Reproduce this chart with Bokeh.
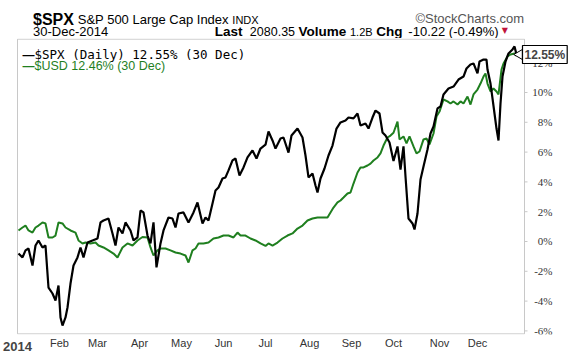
from bokeh.plotting import figure
from bokeh.models import Range1d, FixedTicker, Label, LabelSet, ColumnDataSource, LinearAxis
from bokeh.layouts import column
from bokeh.embed import file_html
from bokeh.resources import INLINE

# ---- data (trading-day index, % change since start of 2014) ----
spx_day = [0.5, 2.5, 4, 5.5, 7.5, 9, 10.5, 12.5, 14, 15.5, 17.5, 19, 20.5, 21.5, 22.5, 24, 25, 26.5, 28, 30,
           31.5, 33, 35, 37.5, 40, 41.5, 43, 45.5, 47.5, 49, 50.5, 52.5, 54, 56.5, 58, 60, 61.5, 63, 65, 66.5,
           68, 69.5, 71.5, 73, 75.5, 77.5, 79, 80.5, 83, 85.5, 88, 90, 92.5, 94, 95.5, 97.5, 99, 100.5, 102.5, 104,
           105.5, 107.5, 109, 111, 113, 115, 117.5, 119.5, 121.5, 124, 125.5, 127.5, 129, 131.5, 133, 135.5, 137, 140, 142.5, 144,
           145.5, 147.5, 149, 150, 151.5, 153.5, 155.5, 157.5, 159.5, 161.5, 164, 165.5, 168, 170, 171.5, 174, 175.5, 177.5, 179, 181,
           182.5, 184, 186, 188, 190, 191.5, 193, 194, 195.5, 197.5, 198.5, 200, 201.5, 203, 205, 206.5, 208, 210, 211.5, 213,
           215.5, 218, 220.5, 223, 224.5, 226.5, 228, 230, 231, 233, 234.5, 235, 236.5, 237.5, 238.5, 239.5, 240.5, 241.5, 242.5, 244,
           245.5, 247.5, 248.5, 249.5]
spx_pct = [-0.80, -1.07, -0.60, -0.47, -1.61, -0.27, 0.07, -0.40, -0.27, -3.09, -3.49, -3.96, -2.95, -5.10, -5.64, -5.10, -4.43, -2.82, -1.61, -1.07,
           -0.40, -1.07, -0.07, 0.07, 0.20, 1.28, 1.41, 1.54, 0.54, -0.27, 0.94, 0.54, 1.28, 0.74, 0.07, 0.27, 2.08, 1.95, 0.40, -0.13,
           1.28, -1.74, -0.13, 0.74, 1.61, 1.54, 0.94, 1.88, 1.95, 1.28, 1.95, 2.62, 1.21, 1.61, 1.41, 2.55, 3.42, 3.62, 4.23, 4.30,
           4.77, 5.44, 5.57, 4.43, 4.97, 5.64, 6.11, 5.57, 6.24, 6.50, 7.38, 6.78, 6.24, 6.91, 6.98, 5.97, 7.11, 7.58, 6.98, 5.77,
           4.30, 4.56, 3.76, 3.29, 4.23, 4.90, 5.77, 6.44, 7.58, 7.99, 8.12, 8.32, 8.26, 8.59, 7.79, 7.92, 7.58, 8.32, 8.79, 8.59,
           7.32, 7.11, 6.64, 5.40, 6.38, 4.83, 6.38, 4.36, 1.54, 1.21, 0.81, 1.88, 4.16, 5.03, 6.17, 7.25, 7.72, 8.93, 9.06, 9.87,
           10.27, 10.40, 10.87, 11.07, 11.61, 11.88, 11.95, 11.28, 12.08, 12.21, 12.21, 11.54, 10.60, 9.60, 8.59, 7.58, 6.78, 9.26, 11.07, 12.08,
           12.62, 12.89, 13.09, 12.55]

usd_day = [0.5, 2.5, 4, 5.5, 7.5, 9, 10.5, 12.5, 14, 15.5, 17.5, 19, 20.5, 22.5, 24, 26.5, 29, 30.5, 32.5, 34,
           36.5, 39, 40.5, 43, 45.5, 48, 50, 52.5, 55, 57.5, 60, 62.5, 65, 66.5, 68, 70, 71.5, 74, 76.5, 79,
           81.5, 84, 85.5, 87.5, 89, 90.5, 93, 95.5, 98, 100.5, 103, 105.5, 108, 110, 111.5, 114, 116.5, 119, 121.5, 124,
           125.5, 127.5, 130, 132.5, 135, 137.5, 140, 142.5, 145, 147.5, 150, 152.5, 155, 156.5, 158, 160, 161.5, 163, 165, 166.5,
           168, 170, 171.5, 173, 175, 176.5, 178, 180, 181.5, 183, 185, 186.5, 188, 190, 191, 193, 194.5, 196, 198, 199.5,
           201, 203, 204.5, 206, 208, 209.5, 211, 213, 215, 216.5, 218, 220, 221.5, 223, 225, 226.5, 228, 230, 231.5, 233,
           234, 235, 236.5, 238, 239.5, 240.5, 242, 243, 245, 246.5, 248.5, 249.5]
usd_pct = [0.74, 0.94, 1.07, 0.74, 0.60, 0.94, 1.07, 1.28, 1.21, 0.27, 0.27, 0.40, 1.28, 1.21, 0.94, 0.74, 0.60, 0.07, -0.13, -0.07,
           -0.13, -0.07, -0.27, -0.40, -0.60, -0.81, -1.07, -0.40, -0.13, -0.27, 0.07, 0.30, 0.27, -0.40, -0.94, -0.60, -0.47, -0.47, -0.60, -0.74,
           -0.81, -0.94, -1.41, -0.60, -0.47, -0.13, -0.13, -0.07, 0.20, 0.27, 0.40, 0.40, 0.27, 0.60, 0.40, 0.40, 0.20, 0.07, -0.13, -0.30,
           -0.13, -0.27, -0.07, 0.20, 0.40, 0.54, 0.87, 1.07, 1.41, 1.54, 1.61, 1.61, 1.61, 1.95, 2.28, 2.62, 2.75, 2.95, 3.22, 3.29,
           3.89, 4.63, 4.97, 4.97, 5.10, 5.23, 5.44, 5.64, 5.91, 6.44, 6.98, 7.11, 7.30, 8.05, 6.85, 7.05, 6.58, 7.05, 6.38, 5.91,
           6.04, 6.85, 6.91, 6.51, 7.25, 8.39, 8.72, 9.53, 9.40, 9.26, 9.40, 9.19, 9.40, 9.26, 9.73, 9.19, 9.87, 10.20, 10.60, 11.07,
           11.28, 10.60, 10.07, 10.27, 10.07, 9.87, 11.54, 11.95, 12.42, 12.55, 12.62, 12.46]

month_days = [0, 21, 40, 61, 82, 103, 124, 146, 167, 188, 211, 230]
month_labels = ["2014", "Feb", "Mar", "Apr", "May", "Jun", "Jul", "Aug", "Sep", "Oct", "Nov", "Dec"]
y_ticks = [-6, -4, -2, 0, 2, 4, 6, 8, 10, 12]
y_labels = ["%d%%" % t for t in y_ticks]

SANS = "Liberation Sans"
GREEN = "#1f7f1f"
GRID = "#c8c8c8"

# chart extent: trading days shown (0 .. X_END); percent limits of the frame and of the drawn box
X_END = 253.5
Y_LO, Y_HI = -6.242, 13.624
BOX_LO, BOX_HI = -6.20, 13.58

# ---------------- header strip (page pixel coordinates, y downwards) ----------------
h = figure(width=578, height=38, output_backend="svg", toolbar_location=None,
           x_range=Range1d(0, 578), y_range=Range1d(38, 0),
           x_axis_location=None, y_axis_location=None,
           min_border_left=0, min_border_right=0, min_border_top=0, min_border_bottom=0)
h.outline_line_color = None
h.grid.visible = False
h.background_fill_color = "white"
h.border_fill_color = "white"


def htext(txt, x, y, size, bold=False, color="black", font=SANS, align="left"):
    h.add_layout(Label(x=x, y=y, text=txt, text_font=font, text_font_size=size,
                       text_font_style="bold" if bold else "normal", text_color=color,
                       text_align=align, text_baseline="alphabetic"))


htext("$SPX", 17, 19, "16px", bold=True)
htext("S&P 500 Large Cap Index", 63, 19, "13px")
htext("INDX", 222, 19, "11px")
htext("\u00a9StockCharts.com", 522, 18, "13px", color="#555555", align="right")
htext("30-Dec-2014", 17, 31, "13px")
htext("Last", 204, 31, "13.5px", bold=True)
htext("2080.35", 240, 31, "12.5px")
htext("Volume", 290, 31, "13.5px", bold=True)
htext("1.2B", 343, 31, "11px")
htext("Chg", 370, 31, "13.5px", bold=True)
htext("-10.22 (-0.49%)", 403, 31, "13px")
htext("\u25bc", 499, 30, "8px", color="#c0143c", font="DejaVu Sans")

# ---------------- main chart ----------------
# the frame reaches the right edge so that the value tag and the percent labels can sit in it
p = figure(width=578, height=320, output_backend="svg", toolbar_location=None,
           x_range=Range1d(-0.5, 280.5), y_range=Range1d(Y_LO, Y_HI),
           x_axis_location=None, y_axis_location=None,
           min_border_left=16, min_border_right=0, min_border_top=0, min_border_bottom=24)
p.background_fill_color = "white"
p.border_fill_color = "white"
p.outline_line_color = None
p.grid.visible = False

# chart box
p.segment(x0=[0, 0, X_END, 0], y0=[BOX_LO, BOX_HI, BOX_LO, BOX_LO],
          x1=[0, X_END, X_END, X_END], y1=[BOX_HI, BOX_HI, BOX_HI, BOX_LO],
          line_color=GRID, line_width=1)
# small outward ticks on the right edge of the box
tick_src = ColumnDataSource(dict(y=y_ticks, text=y_labels))
p.segment(x0=X_END, x1=X_END + 1.5, y0="y", y1="y", source=tick_src, line_color=GRID, line_width=1)

p.line(usd_day, usd_pct, line_color=GREEN, line_width=2)
p.line(spx_day, spx_pct, line_color="black", line_width=2.2)

# bold year label sits next to the frame, the month axis below it
p.add_layout(Label(x=month_days[0], y=Y_LO, y_offset=-12, text=month_labels[0], text_font=SANS,
                   text_font_size="13px", text_font_style="bold", text_align="center",
                   text_baseline="alphabetic"), "below")

xa = LinearAxis(ticker=FixedTicker(ticks=month_days))
xa.major_label_overrides = {d: ("" if i == 0 else l) for i, (d, l) in enumerate(zip(month_days, month_labels))}
xa.bounds = (0, X_END)
xa.axis_line_color = None
xa.major_tick_line_color = None
xa.major_tick_out = 0
xa.major_tick_in = 0
xa.minor_tick_line_color = None
xa.major_label_text_font = SANS
xa.major_label_text_font_size = "11px"
xa.major_label_text_color = "#333333"
try:
    xa.major_label_standoff = -7
except Exception:
    xa.major_label_standoff = 0
p.add_layout(xa, "below")

# percent scale labels, right-aligned beside the box
p.add_layout(LabelSet(x=267.5, y="y", text="text", source=tick_src, text_font=SANS,
                      text_font_size="11px", text_color="#333333",
                      text_align="right", text_baseline="middle"))

FRAME_L, FRAME_B = 16, 334


def lab(text, px_, py_, size, bold=False, color="black", font=SANS):
    p.add_layout(Label(x=px_ - FRAME_L, y=FRAME_B - py_, x_units="screen", y_units="screen", text=text,
                       text_font=font, text_font_size=size, text_color=color,
                       text_font_style="bold" if bold else "normal",
                       text_align="left", text_baseline="alphabetic"))


lab("\u2014", 22, 54, "12px", bold=True)
lab("$SPX (Daily) 12.55% (30 Dec)", 34, 54, "12.5px", font="DejaVu Sans Mono")
lab("\u2014", 22, 65, "12px", bold=True, color=GREEN)
lab("$USD 12.46% (30 Dec)", 34, 65, "12.5px", color=GREEN)

# value tag for the last SPX close
p.scatter(x=[spx_day[-1] + 1.5], y=[spx_pct[-1]], marker="triangle", angle=1.5708, size=10,
          fill_color="white", line_color="black", line_width=1)
p.add_layout(Label(x=X_END, y=spx_pct[-1], x_offset=-2, text="%.2f%%" % spx_pct[-1],
                   text_font=SANS, text_font_size="12px", text_font_style="bold",
                   text_align="left", text_baseline="middle",
                   border_line_color="black", border_line_width=1.2,
                   background_fill_color="white", padding=2))

open("out.html", "w").write(file_html(column(h, p, spacing=0), INLINE))
